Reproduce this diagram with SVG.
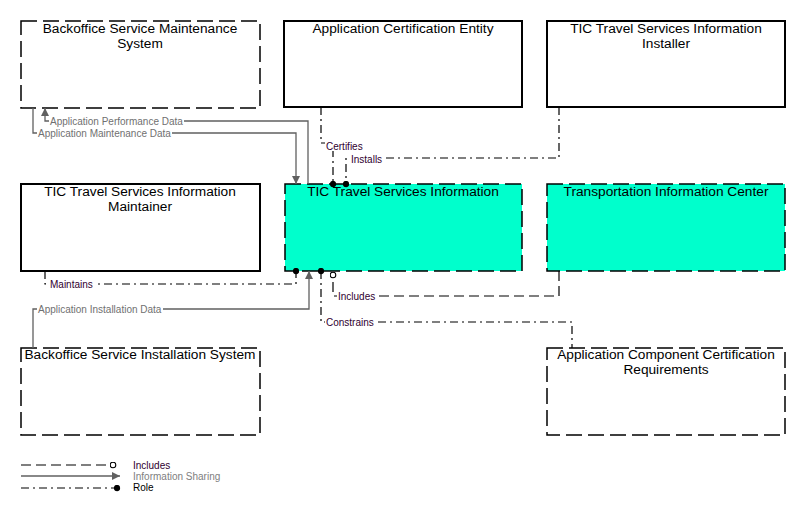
<svg xmlns="http://www.w3.org/2000/svg" width="804" height="505" viewBox="0 0 804 505">
<style>
.box{fill:#fff;stroke:#000;stroke-width:2}
.dbox{fill:#fff;stroke:#000;stroke-width:1.5;stroke-dasharray:16,6}
.cbox{fill:#00ffcc;stroke:#000;stroke-width:1.5;stroke-dasharray:16,6}
.t{font-family:"Liberation Sans",Arial,sans-serif;font-size:13.7px;fill:#000;text-anchor:middle}
.flow{fill:none;stroke:#606060;stroke-width:1.3}
.role{fill:none;stroke:#000;stroke-width:1.2;stroke-dasharray:8,4,2,4}
.inc{fill:none;stroke:#000;stroke-width:1.2;stroke-dasharray:10,5}
.bg{fill:#fff}
.fl,.rl{font-family:"Liberation Sans",Arial,sans-serif;font-size:10px}
.fl{fill:#707070}
.rl{fill:#300030}
.lg{font-family:"Liberation Sans",Arial,sans-serif;font-size:10px}
</style>
<defs>
<marker id="arr" viewBox="0 0 10 10" refX="10" refY="5" markerWidth="8" markerHeight="8" markerUnits="userSpaceOnUse" orient="auto"><path d="M0,0 L10,5 L0,10 z" fill="#606060"/></marker>
<marker id="dot" viewBox="0 0 10 10" refX="5" refY="5" markerWidth="7" markerHeight="7" markerUnits="userSpaceOnUse"><circle cx="5" cy="5" r="4.5" fill="#000"/></marker>
<marker id="hol" viewBox="0 0 10 10" refX="5" refY="5" markerWidth="7" markerHeight="7" markerUnits="userSpaceOnUse"><circle cx="5" cy="5" r="4" fill="#fff" stroke="#000" stroke-width="1.5"/></marker>
</defs>
<g id="n1"><rect class="dbox" x="21" y="21" width="239" height="87"/><text class="t" x="140" y="33">Backoffice Service Maintenance</text><text class="t" x="140" y="48">System</text></g>
<g id="n2"><rect class="box" x="284" y="21" width="238" height="86"/><text class="t" x="403" y="33">Application Certification Entity</text></g>
<g id="n3"><rect class="box" x="547" y="21" width="238" height="86"/><text class="t" x="666" y="33">TIC Travel Services Information</text><text class="t" x="666" y="48">Installer</text></g>
<g id="n4"><rect class="box" x="21" y="184" width="239" height="87"/><text class="t" x="140" y="196">TIC Travel Services Information</text><text class="t" x="140" y="211">Maintainer</text></g>
<g id="n5"><rect class="cbox" x="285" y="184" width="237" height="87"/><text class="t" x="403" y="196">TIC Travel Services Information</text></g>
<g id="n6"><rect class="cbox" x="547" y="184" width="238" height="87"/><text class="t" x="666" y="196">Transportation Information Center</text></g>
<g id="n7"><rect class="dbox" x="21" y="348" width="239" height="87"/><text class="t" x="140" y="359">Backoffice Service Installation System</text></g>
<g id="n8"><rect class="dbox" x="547" y="348" width="238" height="87"/><text class="t" x="666" y="359">Application Component Certification</text><text class="t" x="666" y="374">Requirements</text></g>
<g id="connectors">
<path class="flow" d="M308,184 V121 H45 V108" marker-end="url(#arr)"/>
<rect class="bg" x="49" y="116" width="135" height="10"/>
<text class="fl" x="50" y="125">Application Performance Data</text>
<path class="flow" d="M33,108 V133 H296 V184" marker-end="url(#arr)"/>
<rect class="bg" x="37" y="128" width="135" height="10"/>
<text class="fl" x="38" y="137">Application Maintenance Data</text>
<path class="role" d="M321,107 V143 H333 V184" marker-end="url(#dot)"/>
<rect class="bg" x="325" y="141" width="39" height="10"/>
<text class="rl" x="326" y="150">Certifies</text>
<path class="role" d="M559,107 V158 H346 V184" marker-end="url(#dot)"/>
<rect class="bg" x="350" y="154" width="33" height="10"/>
<text class="rl" x="351" y="163">Installs</text>
<path class="role" d="M45,271 V284 H296 V271" marker-end="url(#dot)"/>
<rect class="bg" x="49" y="279" width="46" height="10"/>
<text class="rl" x="50" y="288">Maintains</text>
<path class="flow" d="M33,348 V309 H309 V271" marker-end="url(#arr)"/>
<rect class="bg" x="37" y="304" width="126" height="10"/>
<text class="fl" x="38" y="313">Application Installation Data</text>
<path class="inc" d="M559,271 V296 H333 V275" marker-end="url(#hol)"/>
<rect class="bg" x="337" y="291" width="40" height="10"/>
<text class="rl" x="338" y="300">Includes</text>
<path class="role" d="M321,271 V322 H572 V348" marker-start="url(#dot)"/>
<rect class="bg" x="325" y="317" width="51" height="10"/>
<text class="rl" x="326" y="326">Constrains</text>
</g>
<g id="legend">
<path class="inc" d="M21,465 H113" marker-end="url(#hol)"/>
<text class="lg" x="133" y="469" fill="#300030">Includes</text>
<path class="flow" d="M21,476 H120" marker-end="url(#arr)"/>
<text class="lg" x="133" y="480" fill="#808080">Information Sharing</text>
<path class="role" d="M21,488 H117" marker-end="url(#dot)"/>
<text class="lg" x="133" y="491" fill="#000">Role</text>
</g>
</svg>
